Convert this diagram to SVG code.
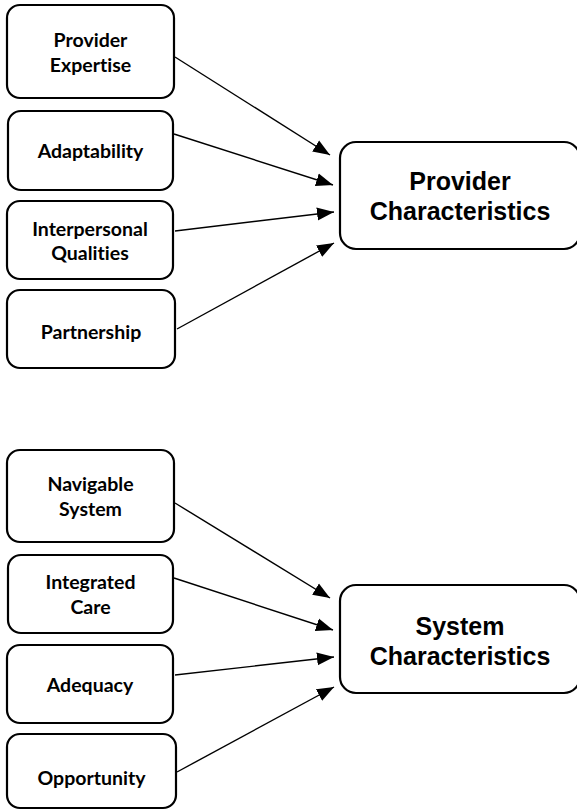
<svg xmlns="http://www.w3.org/2000/svg" width="577" height="811" viewBox="0 0 577 811">
<style>
.box{fill:#fff;stroke:#000;stroke-width:2.2}
.lt{font-family:Lato,"Open Sans",sans-serif;font-weight:bold;font-size:19.5px;text-anchor:middle;fill:#000;font-variant-ligatures:none}
.rt{font-family:"Liberation Sans",Arial,sans-serif;font-weight:bold;font-size:25px;text-anchor:middle;fill:#000}
.con line{stroke:#000;stroke-width:1.4;marker-end:url(#ah)}
</style>
<defs>
<marker id="ah" markerUnits="userSpaceOnUse" markerWidth="18" markerHeight="14" refX="17" refY="6.5" orient="auto" viewBox="0 0 18 13">
<path d="M0,0 L17,6.5 L0,13 Z" fill="#000"/>
</marker>
</defs>
<rect width="577" height="811" fill="#fff"/>
<g id="provider-expertise"><rect class="box" x="7" y="5" width="167" height="93" rx="13"/><text class="lt" x="90.5" y="47">Provider</text><text class="lt" x="90.5" y="72">Expertise</text></g>
<g id="adaptability"><rect class="box" x="8" y="111" width="165" height="79" rx="13"/><text class="lt" x="90.5" y="158">Adaptability</text></g>
<g id="interpersonal-qualities"><rect class="box" x="7" y="201" width="166" height="78" rx="13"/><text class="lt" x="90" y="236">Interpersonal</text><text class="lt" x="90" y="260">Qualities</text></g>
<g id="partnership"><rect class="box" x="7" y="290" width="168" height="78" rx="13"/><text class="lt" x="91" y="339">Partnership</text></g>
<g id="provider-characteristics"><rect class="box" x="340" y="142" width="240" height="107" rx="16"/><text class="rt" x="460" y="190">Provider</text><text class="rt" x="460" y="220">Characteristics</text></g>
<g id="navigable-system"><rect class="box" x="7" y="450" width="167" height="92" rx="13"/><text class="lt" x="90.5" y="491">Navigable</text><text class="lt" x="90.5" y="516">System</text></g>
<g id="integrated-care"><rect class="box" x="8" y="555" width="165" height="78" rx="13"/><text class="lt" x="90.5" y="589">Integrated</text><text class="lt" x="90.5" y="614">Care</text></g>
<g id="adequacy"><rect class="box" x="7" y="645" width="166" height="78" rx="13"/><text class="lt" x="90" y="692">Adequacy</text></g>
<g id="opportunity"><rect class="box" x="7" y="734" width="169" height="74" rx="13"/><text class="lt" x="91.5" y="785">Opportunity</text></g>
<g id="system-characteristics"><rect class="box" x="340" y="585" width="240" height="108" rx="16"/><text class="rt" x="460" y="635">System</text><text class="rt" x="460" y="665">Characteristics</text></g>
<g class="con" id="connectors">
<line x1="175" y1="57" x2="330" y2="155"/>
<line x1="174" y1="134" x2="333" y2="185"/>
<line x1="175" y1="231" x2="334" y2="212"/>
<line x1="177" y1="329" x2="334" y2="243"/>
<line x1="175" y1="503" x2="330" y2="598"/>
<line x1="174" y1="578" x2="333" y2="630"/>
<line x1="175" y1="675" x2="334" y2="657"/>
<line x1="177" y1="772" x2="334" y2="687"/>
</g>
</svg>
